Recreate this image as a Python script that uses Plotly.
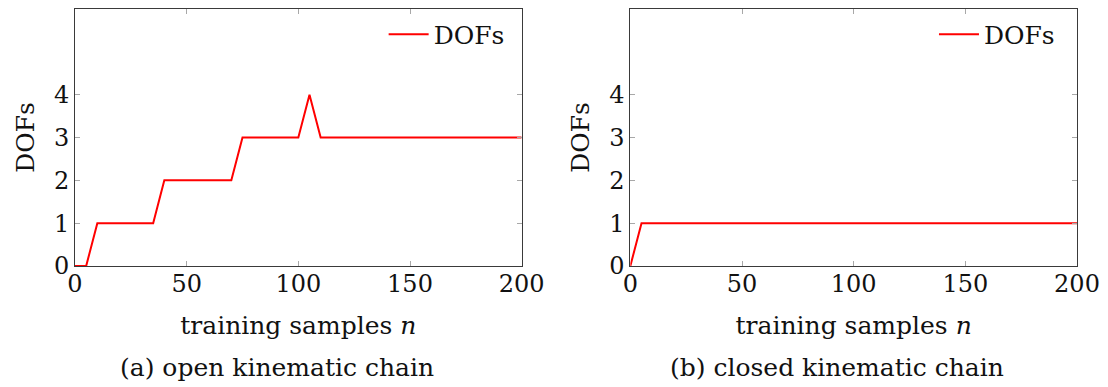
import plotly.graph_objects as go

# training sample counts (step 5) and identified DOFs
samples = list(range(0, 205, 5))
dofs_open = [0, 0, 1, 1, 1, 1, 1, 1, 2, 2, 2, 2, 2, 2, 2, 3, 3, 3, 3, 3, 3,
             4, 3, 3, 3, 3, 3, 3, 3, 3, 3, 3, 3, 3, 3, 3, 3, 3, 3, 3, 3]
dofs_closed = [0] + [1] * 40

x_ticks = [0, 50, 100, 150, 200]
y_ticks = [0, 1, 2, 3, 4]
captions = ["(a) open kinematic chain", "(b) closed kinematic chain"]

FONT = "DejaVu Serif"
FS = 25
FS_TICK = 24
TXT = "#111111"
RED = "#ff0000"

fig = go.Figure()
fig.add_trace(go.Scatter(x=samples, y=dofs_open, mode="lines", name="DOFs",
                         line=dict(color=RED, width=2), xaxis="x", yaxis="y",
                         legend="legend"))
fig.add_trace(go.Scatter(x=samples, y=dofs_closed, mode="lines", name="DOFs",
                         line=dict(color=RED, width=2), xaxis="x2", yaxis="y2",
                         legend="legend2"))

W, H = 1108, 387
ml, mr, mt, mb = 75, 28, 8, 121
pw = W - ml - mr
ph = H - mt - mb
left_dom = [0, (523 - ml) / pw]
right_dom = [(632 - ml) / pw, 1]

axis_common = dict(
    showgrid=False, zeroline=False, showline=True, linecolor="#3a3a3a",
    linewidth=1, mirror="ticks", ticks="inside", ticklen=5, tickcolor="#a8a8a8",
    tickwidth=1, tickfont=dict(family=FONT, size=FS_TICK, color=TXT),
)
xaxis_common = dict(axis_common, range=[0, 200], tickvals=x_ticks,
                    ticklabelstandoff=-4,
                    title=dict(text="training samples <i>n</i>",
                               font=dict(family=FONT, size=FS, color=TXT),
                               standoff=19))
yaxis_common = dict(axis_common, range=[0, 6], tickvals=y_ticks,
                    title=dict(text="DOFs",
                               font=dict(family=FONT, size=FS, color=TXT),
                               standoff=12))

legend_common = dict(font=dict(family=FONT, size=FS, color=TXT),
                     bgcolor="rgba(0,0,0,0)", borderwidth=0,
                     xanchor="right", yanchor="top", itemwidth=40)

fig.update_layout(
    width=W, height=H,
    margin=dict(l=ml, r=mr, t=mt, b=mb),
    paper_bgcolor="white", plot_bgcolor="white",
    xaxis=dict(xaxis_common, domain=left_dom, anchor="y"),
    yaxis=dict(yaxis_common, domain=[0, 1], anchor="x"),
    xaxis2=dict(xaxis_common, domain=right_dom, anchor="y2"),
    yaxis2=dict(yaxis_common, domain=[0, 1], anchor="x2"),
    legend=dict(legend_common, x=left_dom[1] - 0.012, y=0.99),
    legend2=dict(legend_common, x=0.983, y=0.99),
    showlegend=True,
)

for cx, text in zip([278, 839], captions):
    fig.add_annotation(text=text, xref="paper", yref="paper",
                       x=(cx - ml) / pw, y=-(368 - (H - mb)) / ph,
                       xanchor="center", yanchor="middle", showarrow=False,
                       font=dict(family=FONT, size=FS, color=TXT))

fig.write_html("out.html")
